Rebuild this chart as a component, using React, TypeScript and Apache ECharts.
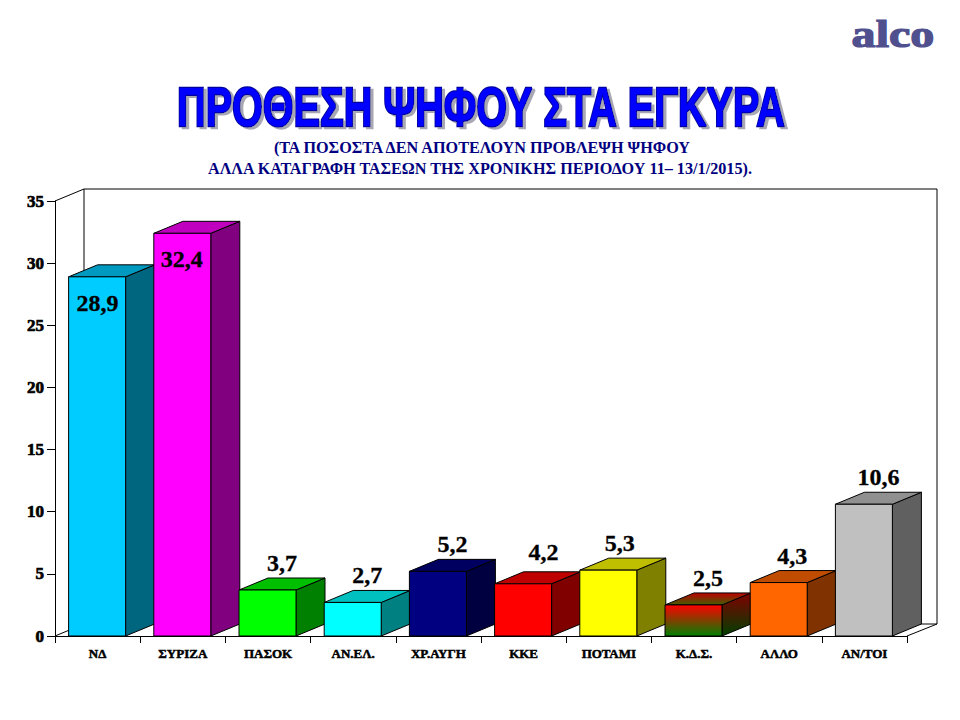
import React, { useEffect, useRef } from "react";
import * as echarts from "echarts";

const categories = ["ΝΔ", "ΣΥΡΙΖΑ", "ΠΑΣΟΚ", "ΑΝ.ΕΛ.", "ΧΡ.ΑΥΓΗ", "ΚΚΕ", "ΠΟΤΑΜΙ", "Κ.Δ.Σ.", "ΑΛΛΟ", "ΑΝ/ΤΟΙ"];
const values = [28.9, 32.4, 3.7, 2.7, 5.2, 4.2, 5.3, 2.5, 4.3, 10.6];
const yTicks = { min: 0, max: 35, interval: 5 };
const frontColors = ["#00CCFF", "#FF00FF", "#00FF00", "#00FFFF", "#000080", "#FF0000", "#FFFF00", "KDS", "#FF6600", "#C0C0C0"];
const topColors = ["#0099BF", "#BF00BF", "#00BF00", "#00BFBF", "#000060", "#BF0000", "#BFBF00", "KDS", "#BF4C00", "#909090"];
const sideColors = ["#006680", "#800080", "#008000", "#008080", "#000040", "#800000", "#808000", "KDS", "#803300", "#606060"];
const labelShiftX = [0, -1, 14, 14, 14, 20, 11, 14, 13, 14];
const labelShiftY = [0, 0, 0, 0, 0, -5, 0, 0, 0, 0];

const titleText = "ΠΡΟΘΕΣΗ ΨΗΦΟΥ ΣΤΑ ΕΓΚΥΡΑ";
const subtitle1 = "(ΤΑ ΠΟΣΟΣΤΑ ΔΕΝ ΑΠΟΤΕΛΟΥΝ ΠΡΟΒΛΕΨΗ ΨΗΦΟΥ";
const subtitle2 = "ΑΛΛΑ ΚΑΤΑΓΡΑΦΗ ΤΑΣΕΩΝ ΤΗΣ ΧΡΟΝΙΚΗΣ ΠΕΡΙΟΔΟΥ 11– 13/1/2015).";
const logoText = "alco";

const SERIF = '"Liberation Serif", serif';
const DX = 29;
const DY = -12;
const G = { left: 55, right: 907, top: 201, bottom: 636 };

const grad = (stops: string[]) =>
  new echarts.graphic.LinearGradient(0, 0, 0, 1, [
    { offset: 0, color: stops[0] },
    { offset: 1, color: stops[1] },
  ]);

function fills(i: number) {
  if (frontColors[i] !== "KDS") return [frontColors[i], topColors[i], sideColors[i]];
  return [grad(["#FF0000", "#008000"]), grad(["#BF0000", "#406000"]), grad(["#800000", "#004000"])];
}

const renderBar = (params: any, api: any) => {
  const i = api.value(0);
  const v = api.value(1);
  const [cx, yTop] = api.coord([i, v]);
  const [, y0] = api.coord([i, 0]);
  const w = 57;
  const x0 = cx - w / 2 - 0.5;
  const x1 = x0 + w;
  const [front, top, side] = fills(i);
  const base = { stroke: "#000", lineWidth: 1 };
  const poly = (points: number[][], fill: any) => ({
    type: "polygon",
    shape: { points },
    style: { ...base, fill },
  });
  const inside = v > 20;
  const label = {
    type: "text",
    style: {
      text: String(v).replace(".", ","),
      x: cx + labelShiftX[i],
      y: inside ? yTop + 26 : yTop - 27 + labelShiftY[i],
      align: "center",
      verticalAlign: "middle",
      fill: "#000",
      font: `bold 24px ${SERIF}`,
      stroke: "#000",
      lineWidth: 0.3,
    },
  };
  return {
    type: "group",
    children: [
      poly([[x1, y0], [x1 + DX, y0 + DY], [x1 + DX, yTop + DY], [x1, yTop]], side),
      poly([[x0, yTop], [x0 + DX, yTop + DY], [x1 + DX, yTop + DY], [x1, yTop]], top),
      poly([[x0, y0], [x1, y0], [x1, yTop], [x0, yTop]], front),
      label,
    ],
  };
};

const wall = (x1: number, y1: number, x2: number, y2: number) => ({
  type: "line",
  shape: { x1, y1, x2, y2 },
  style: { stroke: "#000", lineWidth: 1 },
});

const option: any = {
  animation: false,
  backgroundColor: "#fff",
  grid: { left: G.left, top: G.top, width: G.right - G.left, height: G.bottom - G.top },
  xAxis: {
    type: "category",
    data: categories,
    boundaryGap: true,
    axisLine: { show: true, lineStyle: { color: "#000", width: 1 } },
    axisTick: { show: true, alignWithLabel: false, length: 7, lineStyle: { color: "#000" } },
    axisLabel: {
      color: "#000",
      fontFamily: SERIF,
      fontWeight: "bold",
      fontSize: 13,
      margin: 11,
      interval: 0,
      textBorderColor: "#000",
      textBorderWidth: 0.5,
    },
    splitLine: { show: false },
  },
  yAxis: {
    type: "value",
    min: yTicks.min,
    max: yTicks.max,
    interval: yTicks.interval,
    axisLine: { show: true, lineStyle: { color: "#000", width: 1 } },
    axisTick: { show: true, length: 8, lineStyle: { color: "#000" } },
    axisLabel: {
      color: "#000",
      fontFamily: SERIF,
      fontWeight: "bold",
      fontSize: 17,
      margin: 11,
      textBorderColor: "#000",
      textBorderWidth: 0.7,
    },
    splitLine: { show: false },
  },
  graphic: [
    wall(G.left, G.top, G.left + DX, G.top + DY),
    wall(G.left + DX, G.top + DY, G.right + DX + 1, G.top + DY),
    wall(G.left + DX, G.top + DY, G.left + DX, G.bottom + DY),
    wall(G.right + DX + 1, G.top + DY, G.right + DX + 1, G.bottom + DY),
    wall(G.left + DX, G.bottom + DY, G.right + DX + 1, G.bottom + DY),
    wall(G.left, G.bottom, G.left + DX, G.bottom + DY),
    wall(G.right, G.bottom, G.right + DX + 1, G.bottom + DY),
    {
      type: "text",
      x: 481,
      y: 107,
      scaleX: 0.682,
      scaleY: 0.95,
      style: {
        text: titleText,
        x: 0,
        y: 0,
        align: "center",
        verticalAlign: "middle",
        font: 'bold 58px "Liberation Sans", sans-serif',
        fill: "#0000FF",
        stroke: "#0000A0",
        lineWidth: 2.6,
        textShadowColor: "#a8a8b4",
        textShadowOffsetX: 3,
        textShadowOffsetY: 2,
        textShadowBlur: 1,
      },
    },
    {
      type: "text",
      style: { text: subtitle1, x: 482, y: 148, align: "center", verticalAlign: "middle", font: `bold 16.2px ${SERIF}`, fill: "#000080" },
    },
    {
      type: "text",
      style: { text: subtitle2, x: 480, y: 169, align: "center", verticalAlign: "middle", font: `bold 16.2px ${SERIF}`, fill: "#000080" },
    },
    {
      type: "text",
      x: 893,
      y: 34,
      scaleX: 1.3,
      style: {
        text: logoText,
        x: 0,
        y: 0,
        align: "center",
        verticalAlign: "middle",
        font: `bold 37px ${SERIF}`,
        fill: "#50508F",
        stroke: "#50508F",
        lineWidth: 1.2,
      },
    },
  ],
  series: [
    {
      type: "custom",
      coordinateSystem: "cartesian2d",
      renderItem: renderBar,
      clip: false,
      z: 5,
      encode: { x: 0, y: 1 },
      data: values.map((v, i) => [i, v]),
    },
  ],
};

export default function App() {
  const ref = useRef<HTMLDivElement>(null);
  useEffect(() => {
    const chart = echarts.init(ref.current!, undefined, { renderer: "svg" });
    chart.setOption(option);
    return () => chart.dispose();
  }, []);
  return <div ref={ref} style={{ position: "fixed", left: 0, top: 0, width: 960, height: 720 }} />;
}
